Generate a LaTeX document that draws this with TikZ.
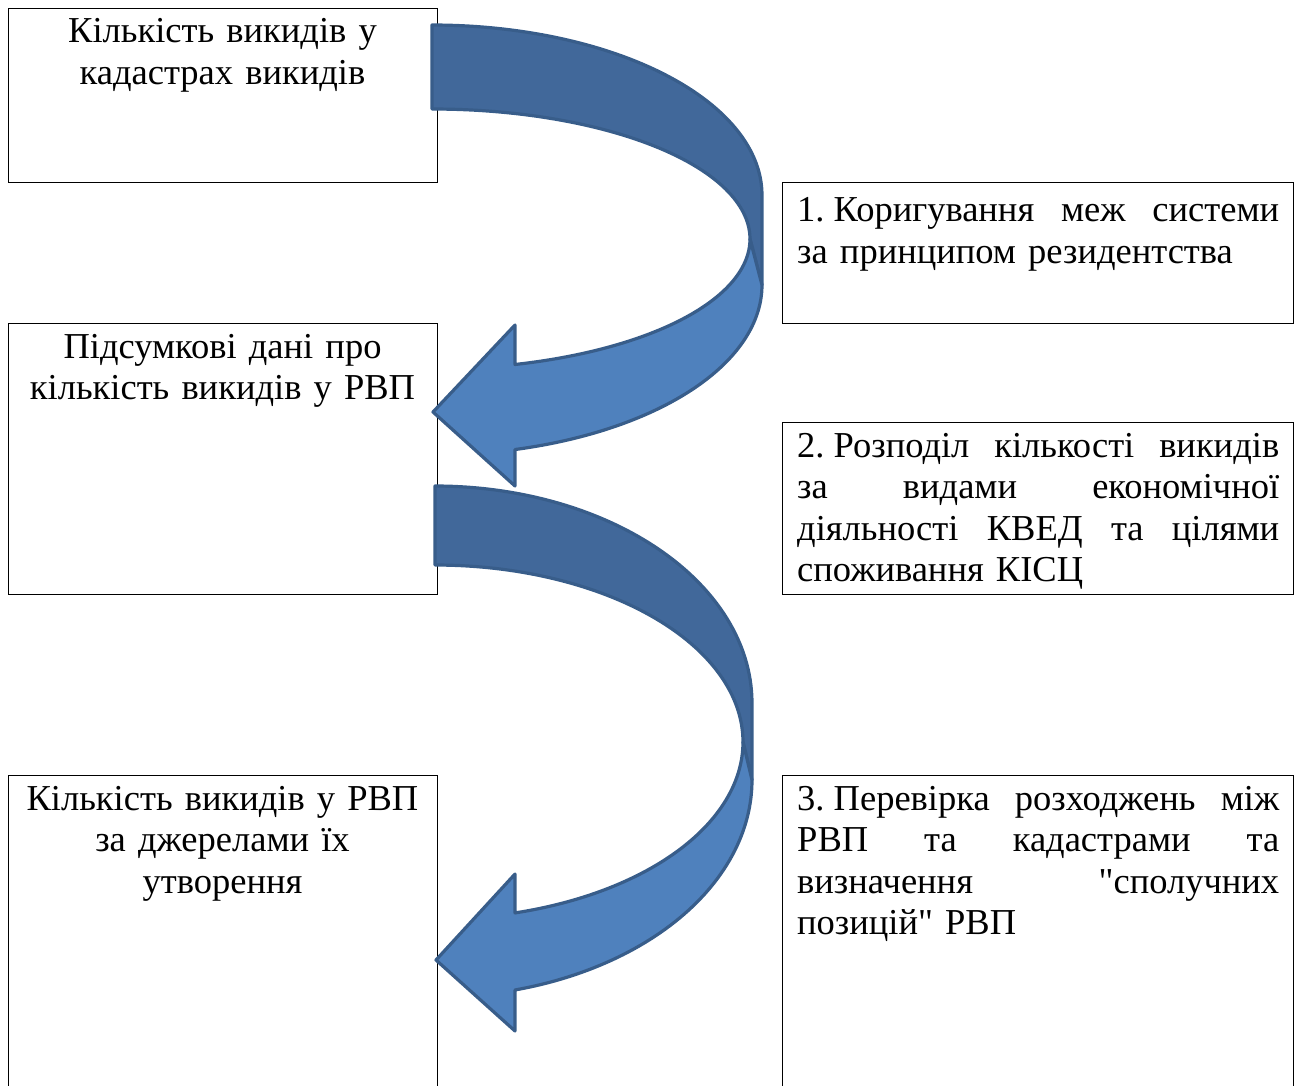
\documentclass[tikz,border=0pt]{standalone}
\usepackage{fontspec}
\setmainfont{Liberation Serif}[Ligatures=TeXOff]
\newcommand\boxfont{\fontsize{36.5}{41.5}\selectfont}
\newcommand\jline[1]{\leavevmode\hbox to 482pt{#1}}
\definecolor{bandback}{HTML}{41689A}
\definecolor{bandfront}{HTML}{4F81BD}
\definecolor{bandline}{HTML}{385D8A}
\tikzset{
  frame/.style={draw=black, line width=1.4pt, fill=white, anchor=north west, inner sep=0pt},
  ctext/.style={anchor=base, inner sep=0pt, font=\boxfont, align=center},
  jtext/.style={anchor=base west, inner sep=0pt, font=\boxfont, align=left, text width=482pt},
  backface/.style={fill=bandback, draw=bandline, line width=3.2pt, line join=round},
  frontface/.style={fill=bandfront, draw=bandline, line width=3.2pt, line join=round}
}
\begin{document}
\begin{tikzpicture}[x=1pt,y=-1pt]
\useasboundingbox (0,0) rectangle (1301,1086);
% boxes
\node[frame, minimum width=429pt, minimum height=174pt] (boxA) at (8,8) {};
\node[frame, minimum width=511pt, minimum height=141pt] (boxB) at (782,182) {};
\node[frame, minimum width=429pt, minimum height=271pt] (boxC) at (8,323) {};
\node[frame, minimum width=511pt, minimum height=172pt] (boxD) at (782,422) {};
\node[frame, minimum width=429pt, minimum height=340pt] (boxE) at (8,775) {};
\node[frame, minimum width=511pt, minimum height=340pt] (boxF) at (782,775) {};
% texts
\node[ctext, text width=420pt] (tA) at (222.5,43) {Кількість викидів у\\кадастрах викидів};
\node[jtext] (tB) at (797,222) {\jline{1.\hspace{0.25em}Коригування\hfill меж\hfill системи}\\за принципом резидентства};
\node[ctext, text width=420pt] (tC) at (222.5,358) {Підсумкові дані про\\кількість викидів у РВП};
\node[jtext] (tD) at (797,457) {\jline{2.\hspace{0.25em}Розподіл\hfill кількості\hfill викидів}\\\jline{за\hfill видами\hfill економічної}\\\jline{діяльності\hfill КВЕД\hfill та\hfill цілями}\\споживання КІСЦ};
\node[ctext, text width=420pt] (tE) at (222.5,810) {Кількість викидів у РВП\\за джерелами їх\\утворення};
\node[jtext] (tF) at (797,810) {\jline{3.\hspace{0.25em}Перевірка\hfill розходжень\hfill між}\\\jline{РВП\hfill та\hfill кадастрами\hfill та}\\\jline{визначення\hfill "сполучних}\\позицій" РВП};
% curved arrow 1
\filldraw[backface] plot[domain=-90:0, samples=60] ({432+330*cos(\x)},{195+170*sin(\x)})
  -- (762,285) -- (750,239)
  -- plot[domain=0:-90, samples=60] ({432+318*cos(\x)},{239+130*sin(\x)}) -- cycle;
\filldraw[frontface] plot[domain=0:74.87, samples=60] ({432+318*cos(\x)},{239+130*sin(\x)})
  -- (515,325) -- (433,412) -- (515,486)
  -- plot[domain=75.43:0, samples=60] ({432+330*cos(\x)},{285+170*sin(\x)}) -- cycle;
% curved arrow 2
\filldraw[backface] plot[domain=-90:0, samples=60] ({435+317*cos(\x)},{703+217*sin(\x)})
  -- (752,780) -- (743,742)
  -- plot[domain=0:-90, samples=60] ({435+308*cos(\x)},{742+177*sin(\x)}) -- cycle;
\filldraw[frontface] plot[domain=0:74.95, samples=60] ({435+308*cos(\x)},{742+177*sin(\x)})
  -- (515,874) -- (436,960) -- (515,1031)
  -- plot[domain=75.38:0, samples=60] ({435+317*cos(\x)},{780+217*sin(\x)}) -- cycle;
\end{tikzpicture}
\end{document}
